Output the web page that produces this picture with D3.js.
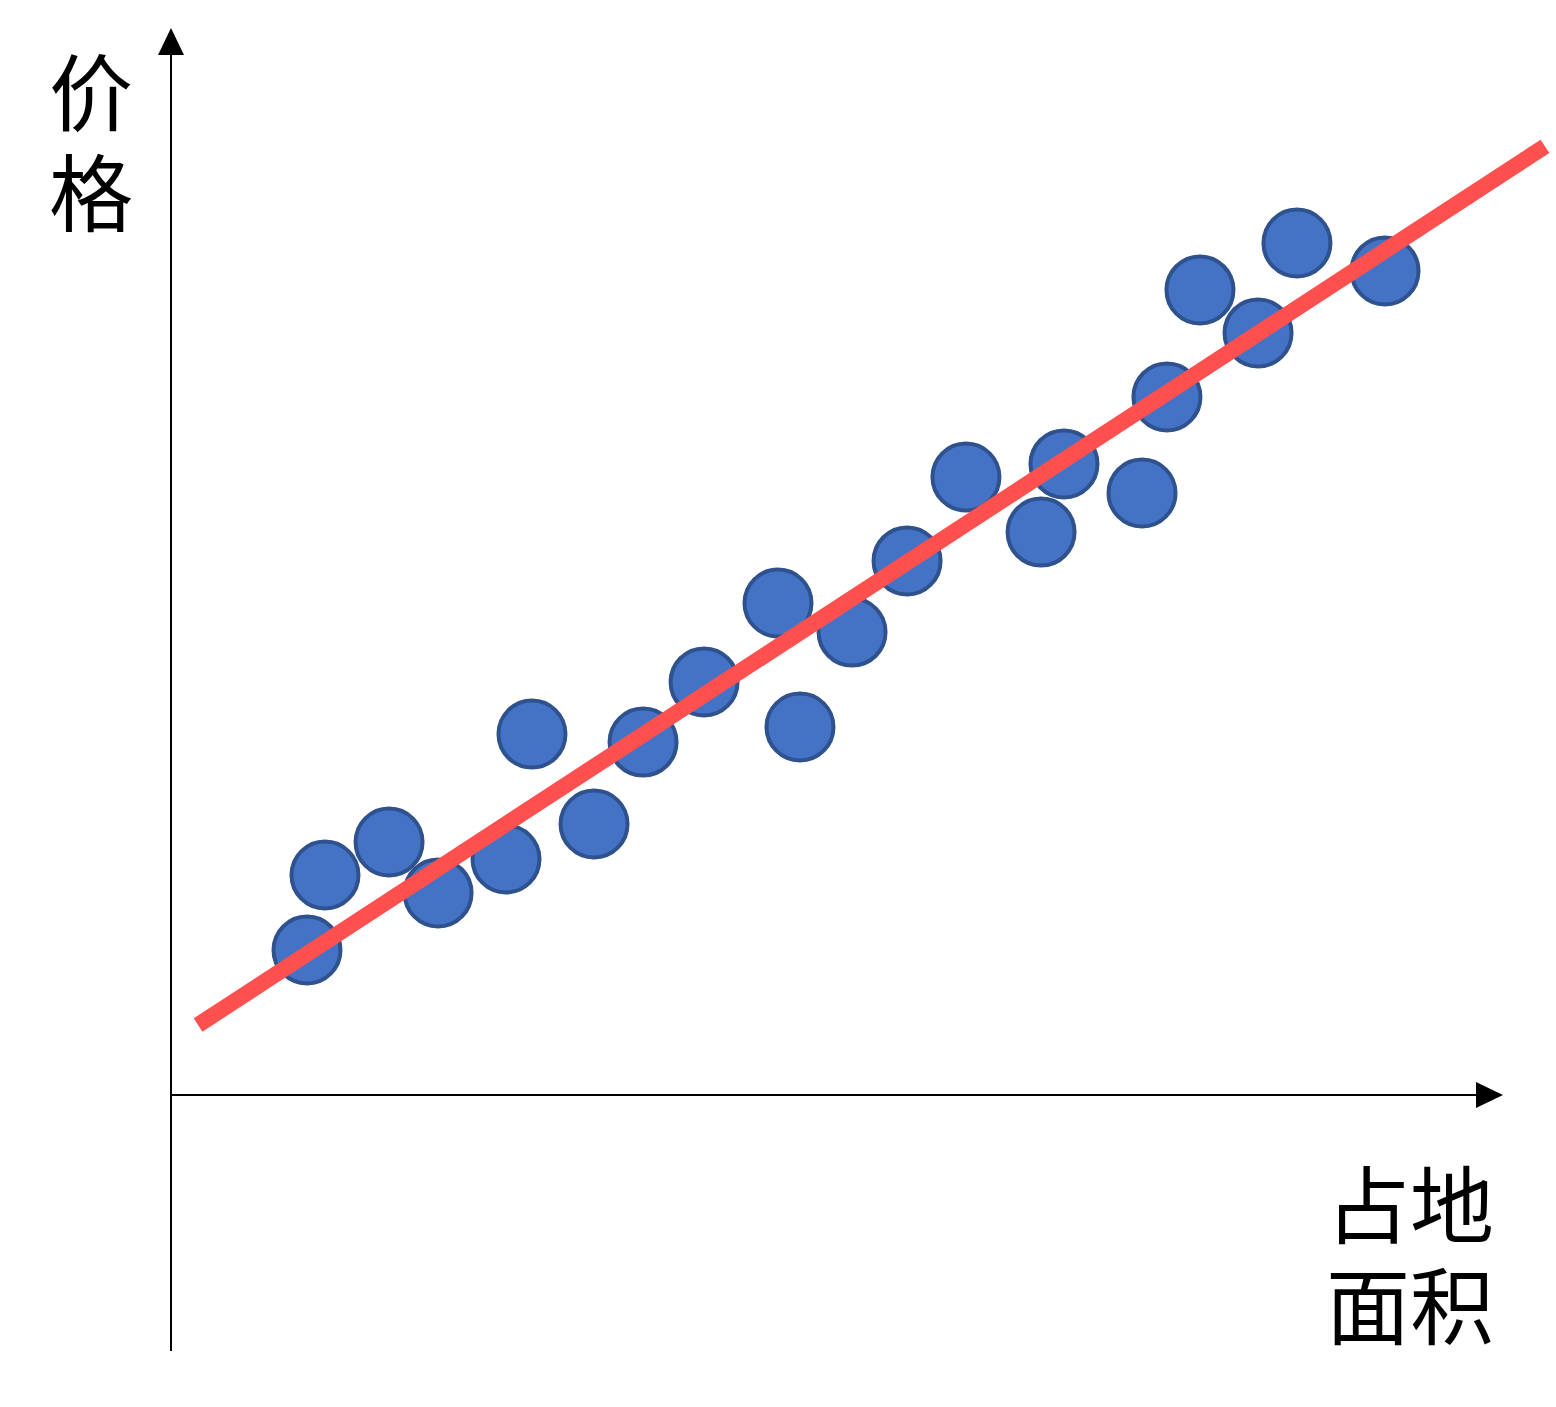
<!DOCTYPE html>
<html>
<head>
<meta charset="utf-8">
<script src="https://cdn.jsdelivr.net/npm/d3@7/dist/d3.min.js"></script>
<style>
  html, body { margin: 0; padding: 0; background: #fff; }
  svg { display: block; }
  text { font-family: "Noto Sans CJK SC", "Noto Sans", sans-serif; }
</style>
</head>
<body>
<svg id="chart" width="1556" height="1407"></svg>
<script>
// ---- data (arbitrary units: area 占地面积 vs price 价格) ----
const areaValues  = [10.21, 11.56, 16.37, 20.05, 25.15, 27.10, 31.76, 35.44, 40.02, 45.57, 47.22, 51.13, 55.26, 59.68, 65.32, 67.04, 72.90, 74.77, 77.25, 81.61, 84.53, 91.14];
const priceValues = [13.59, 20.62, 23.71, 18.94, 22.12, 33.83, 25.40, 33.08, 38.71, 46.11, 34.49, 43.39, 50.05, 57.92, 52.76, 59.14, 56.42, 65.42, 75.45, 71.42, 79.85, 77.23];
const fitLineArea  = [2.03, 103.15];
const fitLinePrice = [6.56, 88.91];
const yAxisLabel = ["价", "格"];
const xAxisLabel = ["占地", "面积"];
const axisExtentX = [0, 100];
const axisExtentY = [-24, 100];

const svg = d3.select("#chart");
const x = d3.scaleLinear().domain([0, 100]).range([171, 1503]);
const y = d3.scaleLinear().domain([0, 100]).range([1095, 28]);

// axes
const axisColor = "#000";
svg.append("line")
  .attr("x1", x(axisExtentX[0])).attr("x2", x(axisExtentX[1]) - 26)
  .attr("y1", y(0)).attr("y2", y(0))
  .attr("stroke", axisColor).attr("stroke-width", 2);
svg.append("path")
  .attr("d", `M${x(axisExtentX[1])},${y(0)} L${x(axisExtentX[1]) - 27},${y(0) - 13} L${x(axisExtentX[1]) - 27},${y(0) + 13} Z`)
  .attr("fill", axisColor);

svg.append("line")
  .attr("x1", x(0)).attr("x2", x(0))
  .attr("y1", y(axisExtentY[0])).attr("y2", y(axisExtentY[1]) + 26)
  .attr("stroke", axisColor).attr("stroke-width", 2);
svg.append("path")
  .attr("d", `M${x(0)},${y(axisExtentY[1])} L${x(0) - 13},${y(axisExtentY[1]) + 27} L${x(0) + 13},${y(axisExtentY[1]) + 27} Z`)
  .attr("fill", axisColor);

// points
const pts = areaValues.map((a, i) => ({ a, p: priceValues[i] }));
svg.append("g").selectAll("circle")
  .data(pts)
  .join("circle")
  .attr("cx", d => x(d.a))
  .attr("cy", d => y(d.p))
  .attr("r", 33.5)
  .attr("fill", "#4472C4")
  .attr("stroke", "#2F528F")
  .attr("stroke-width", 4);

// fit line
svg.append("line")
  .attr("x1", x(fitLineArea[0])).attr("y1", y(fitLinePrice[0]))
  .attr("x2", x(fitLineArea[1])).attr("y2", y(fitLinePrice[1]))
  .attr("stroke", "#FF5050")
  .attr("stroke-width", 16)
  .attr("stroke-linecap", "butt");

// labels (one text element per label, lines as tspans)
function multiLine(lines, cx, cy0, step) {
  const t = svg.append("text")
    .attr("text-anchor", "middle")
    .attr("dominant-baseline", "central")
    .attr("font-size", 84)
    .attr("fill", "#000");
  t.selectAll("tspan")
    .data(lines)
    .join("tspan")
    .attr("x", cx)
    .attr("y", (d, i) => cy0 + i * step)
    .attr("dominant-baseline", "central")
    .text(d => d);
}
multiLine(yAxisLabel, 91, 88, 100);
multiLine(xAxisLabel, 1410, 1200, 101);
</script>
</body>
</html>
